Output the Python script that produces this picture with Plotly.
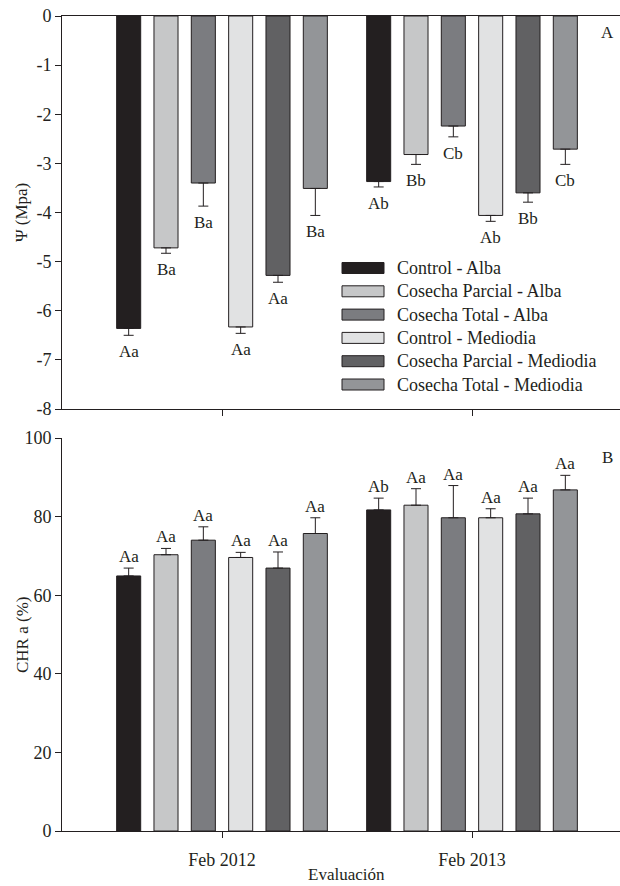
import plotly.graph_objects as go

periods = ["Feb 2012", "Feb 2013"]
treatments = ["Control - Alba", "Cosecha Parcial - Alba", "Cosecha Total - Alba",
              "Control - Mediodia", "Cosecha Parcial - Mediodia", "Cosecha Total - Mediodia"]
colors = ["#231F20", "#C6C7C8", "#7B7C80", "#E1E2E3", "#616163", "#939598"]

# Panel A: water potential (MPa)
psi_2012 = [-6.36, -4.72, -3.40, -6.33, -5.28, -3.51]
psi_2013 = [-3.37, -2.82, -2.24, -4.06, -3.60, -2.71]
psi_err_2012 = [0.14, 0.11, 0.47, 0.13, 0.14, 0.55]
psi_err_2013 = [0.11, 0.20, 0.22, 0.12, 0.19, 0.31]
psi_lab_2012 = ["Aa", "Ba", "Ba", "Aa", "Aa", "Ba"]
psi_lab_2013 = ["Ab", "Bb", "Cb", "Ab", "Bb", "Cb"]

# Panel B: relative water content (%)
chr_2012 = [64.9, 70.3, 74.0, 69.6, 66.9, 75.7]
chr_2013 = [81.7, 82.9, 79.7, 79.7, 80.7, 86.8]
chr_err_2012 = [2.0, 1.6, 3.4, 1.3, 4.1, 4.0]
chr_err_2013 = [3.0, 4.2, 8.2, 2.3, 4.0, 3.7]
chr_lab_2012 = ["Aa", "Aa", "Aa", "Aa", "Aa", "Aa"]
chr_lab_2013 = ["Ab", "Aa", "Aa", "Aa", "Aa", "Aa"]

FONT = "Liberation Serif, Times New Roman, serif"
INK = "#231F20"
BARGAP = 0.104
BARGROUPGAP = 0.356
xpos = [0, 1]

fig = go.Figure()
n = len(treatments)
annotations = []
slot = (1 - BARGAP) / n

for i in range(n):
    fig.add_trace(go.Bar(
        x=xpos, y=[psi_2012[i], psi_2013[i]], name=treatments[i],
        marker=dict(color=colors[i], line=dict(color=INK, width=1)),
        error_y=dict(type="data", symmetric=False, array=[0, 0],
                     arrayminus=[psi_err_2012[i], psi_err_2013[i]],
                     color=INK, thickness=1, width=5),
        xaxis="x", yaxis="y", showlegend=False))
    fig.add_trace(go.Bar(
        x=xpos, y=[chr_2012[i], chr_2013[i]], name=treatments[i],
        marker=dict(color=colors[i], line=dict(color=INK, width=1)),
        error_y=dict(type="data", symmetric=False,
                     array=[chr_err_2012[i], chr_err_2013[i]], arrayminus=[0, 0],
                     color=INK, thickness=1, width=5),
        xaxis="x2", yaxis="y2", showlegend=False))
    for g in range(2):
        xc = xpos[g] + (i - (n - 1) / 2) * slot
        pv = [psi_2012, psi_2013][g][i]
        pe = [psi_err_2012, psi_err_2013][g][i]
        pl = [psi_lab_2012, psi_lab_2013][g][i]
        annotations.append(dict(x=xc, y=pv - pe, xref="x", yref="y", text=pl,
                                showarrow=False, yanchor="top", yshift=-5,
                                font=dict(family=FONT, size=17, color=INK)))
        cv = [chr_2012, chr_2013][g][i]
        ce = [chr_err_2012, chr_err_2013][g][i]
        cl = [chr_lab_2012, chr_lab_2013][g][i]
        annotations.append(dict(x=xc, y=cv + ce, xref="x2", yref="y2", text=cl,
                                showarrow=False, yanchor="bottom", yshift=0,
                                font=dict(family=FONT, size=17, color=INK)))

W, H = 620, 886
ML, MR, MT, MB = 62, 0, 16, 55
PW = W - ML - MR
PH = H - MT - MB

def py(p):
    return (H - MB - p) / PH

def px(p):
    return (p - ML) / PW

shapes = []
leg_y0 = 268
leg_dy = 23.3
for i in range(n):
    yc = leg_y0 + i * leg_dy
    shapes.append(dict(type="rect", xref="paper", yref="paper",
                       x0=px(342), x1=px(384), y0=py(yc + 5.5), y1=py(yc - 5.5),
                       fillcolor=colors[i], line=dict(color=INK, width=1)))
    annotations.append(dict(x=px(395), y=py(yc), xref="paper", yref="paper",
                            text=treatments[i], showarrow=False, xanchor="left",
                            yanchor="middle", font=dict(family=FONT, size=18, color=INK)))

def txt(x, y, s, size=17, angle=0):
    return dict(x=px(x), y=py(y), xref="paper", yref="paper", text=s, textangle=angle,
                showarrow=False, xanchor="center", yanchor="middle",
                font=dict(family=FONT, size=size, color=INK))

annotations.append(txt(607, 33, "A"))
annotations.append(txt(607, 457, "B"))
annotations.append(txt(21, 213, "Ψ (Mpa)", angle=-90))
annotations.append(txt(22, 635, "CHR a (%)", angle=-90))
annotations.append(dict(x=px(346), y=0, xref="paper", yref="paper", text="Evaluación",
                        showarrow=False, xanchor="center", yanchor="bottom",
                        yshift=-MB, font=dict(family=FONT, size=17, color=INK)))

xr = [(ML - 222) / 250, (W - MR - 222) / 250]
axis_common = dict(showgrid=False, zeroline=False, showline=True, linecolor=INK,
                   linewidth=1, ticks="outside", ticklen=6, tickcolor=INK, tickwidth=1,
                   tickfont=dict(family=FONT, size=18, color=INK))

fig.update_layout(
    width=W, height=H,
    margin=dict(l=ML, r=MR, t=MT, b=MB),
    paper_bgcolor="white", plot_bgcolor="white",
    barmode="group", bargap=BARGAP, bargroupgap=BARGROUPGAP,
    showlegend=False,
    xaxis=dict(axis_common, range=xr, domain=[0, 1], anchor="y", tickvals=xpos,
               ticktext=["", ""], mirror=True),
    yaxis=dict(axis_common, range=[-8, 0], domain=[py(409), 1], anchor="x",
               tickvals=[0, -1, -2, -3, -4, -5, -6, -7, -8],
               ticktext=["0", "-1", "-2", "-3", "-4", "-5", "-6", "-7", "-8"]),
    xaxis2=dict(axis_common, range=xr, domain=[0, 1], anchor="y2", tickvals=xpos,
                ticktext=periods, ticklabelstandoff=6),
    yaxis2=dict(axis_common, range=[0, 100], domain=[0, py(438)], anchor="x2",
                tickvals=[0, 20, 40, 60, 80, 100]),
    annotations=annotations,
    shapes=shapes,
)

fig.write_html("out.html")
